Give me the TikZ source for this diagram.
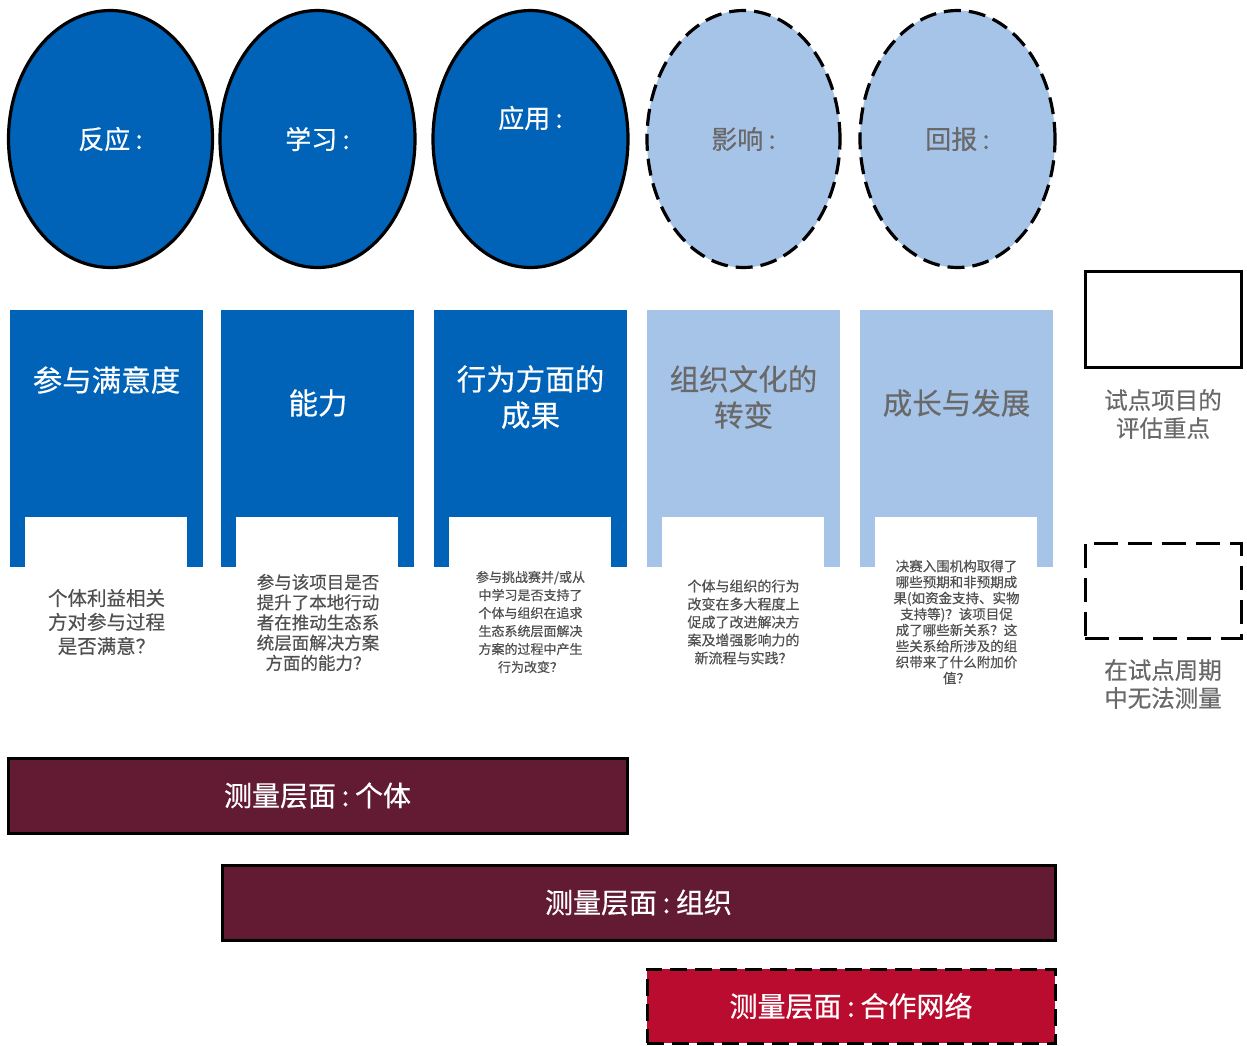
\documentclass[tikz,border=0pt]{standalone}
\usepackage{fontspec}
\setmainfont{Noto Sans CJK SC}[FakeBold=0.4]
\usetikzlibrary{shapes.geometric}
\definecolor{dblue}{RGB}{0,99,183}
\definecolor{lblue}{RGB}{166,196,232}
\definecolor{gtext}{RGB}{105,105,105}
\definecolor{qtext}{RGB}{80,80,80}
\definecolor{wine}{RGB}{98,27,50}
\definecolor{crim}{RGB}{186,12,47}
\newcommand{\cln}{\hspace{0.2em}:\hspace{0.2em}}
\tikzset{
  dashpat/.style={dash pattern=on 17pt off 8pt},
  ovalsolid/.style={ellipse, draw=black, line width=3.2pt, fill=dblue, text=white, inner sep=0pt},
  ovaldash/.style={ellipse, draw=black, line width=3.2pt, dashpat, fill=lblue, text=gtext, inner sep=0pt},
  ovtext/.style={font=\fontsize{26}{30}\selectfont},
  coltitle/.style={align=center, font=\fontsize{29.5}{36}\selectfont},
  qbox/.style={align=center, text=qtext},
  barbox/.style={draw=black, line width=3pt, text=white, font=\fontsize{28}{32}\selectfont, inner sep=0pt},
  legtext/.style={align=center, text=gtext, font=\fontsize{23.5}{28}\selectfont}
}
\begin{document}
\begin{tikzpicture}[x=1pt,y=-1pt]
\useasboundingbox[fill=white] (0,0) rectangle (1247,1045);
% ellipses
\node[ovalsolid, minimum width=204pt, minimum height=257pt] (e1) at (110.5,139) {};
\node[ovalsolid, minimum width=195pt, minimum height=257pt] (e2) at (317.5,139) {};
\node[ovalsolid, minimum width=195pt, minimum height=257pt] (e3) at (530.5,139) {};
\node[ovaldash, minimum width=193pt, minimum height=257pt] (e4) at (743.5,139) {};
\node[ovaldash, minimum width=195pt, minimum height=257pt] (e5) at (957.5,139) {};
\node[ovtext, text=white] (t1) at (110.5,139) {反应\cln};
\node[ovtext, text=white] (t2) at (317.5,139) {学习\cln};
\node[ovtext, text=white] (t3) at (530.5,118) {应用\cln};
\node[ovtext, text=gtext] (t4) at (743.5,139) {影响\cln};
\node[ovtext, text=gtext] (t5) at (957.5,139) {回报\cln};
% columns
\foreach \xa/\xb/\c in {10/203/dblue, 221/414/dblue, 434/627/dblue, 647/840/lblue, 860/1053/lblue}{
  \fill[\c] (\xa,310) rectangle (\xb,567);
  \fill[white] (\xa+15,517) rectangle (\xb-16,567.5);
}
\node[coltitle, text=white] (c1) at (106.5,380) {参与满意度};
\node[coltitle, text=white] (c2) at (318,403) {能力};
\node[coltitle, text=white] (c3) at (530.5,397) {行为方面的\\成果};
\node[coltitle, text=gtext] (c4) at (743.5,397) {组织文化的\\转变};
\node[coltitle, text=gtext] (c5) at (956.5,403) {成长与发展};
% questions
\node[qbox, font=\fontsize{19.5}{24}\selectfont] (q1) at (106.5,622) {个体利益相关\\方对参与过程\\是否满意？};
\node[qbox, font=\fontsize{17.5}{20.2}\selectfont] (q2) at (318,622.5) {参与该项目是否\\提升了本地行动\\者在推动生态系\\统层面解决方案\\方面的能力？};
\node[qbox, font=\fontsize{13}{18}\selectfont] (q3) at (530.5,622) {参与挑战赛并/或从\\中学习是否支持了\\个体与组织在追求\\生态系统层面解决\\方案的过程中产生\\行为改变？};
\node[qbox, font=\fontsize{14}{18}\selectfont] (q4) at (743.5,622) {个体与组织的行为\\改变在多大程度上\\促成了改进解决方\\案及增强影响力的\\新流程与实践？};
\node[qbox, font=\fontsize{13.5}{16}\selectfont] (q5) at (956.5,622) {决赛入围机构取得了\\哪些预期和非预期成\\果(如资金支持、实物\\支持等)？该项目促\\成了哪些新关系？这\\些关系给所涉及的组\\织带来了什么附加价\\值？};
% legend
\node[draw=black, line width=3pt, minimum width=156pt, minimum height=96pt] (l1) at (1163,319) {};
\node[legtext] (l1t) at (1163,414) {试点项目的\\评估重点};
\node[draw=black, line width=3pt, dash pattern=on 24pt off 10pt, minimum width=156pt, minimum height=95pt] (l2) at (1163,590.5) {};
\node[legtext] (l2t) at (1163,684) {在试点周期\\中无法测量};
% bars
\node[barbox, fill=wine, minimum width=619pt, minimum height=75pt] (b1) at (317.5,795.5) {测量层面\cln 个体};
\node[barbox, fill=wine, minimum width=833pt, minimum height=75pt] (b2) at (638.5,902.5) {测量层面\cln 组织};
\node[barbox, fill=crim, dashpat, minimum width=408pt, minimum height=74pt] (b3) at (851,1006) {测量层面\cln 合作网络};
\end{tikzpicture}
\end{document}
